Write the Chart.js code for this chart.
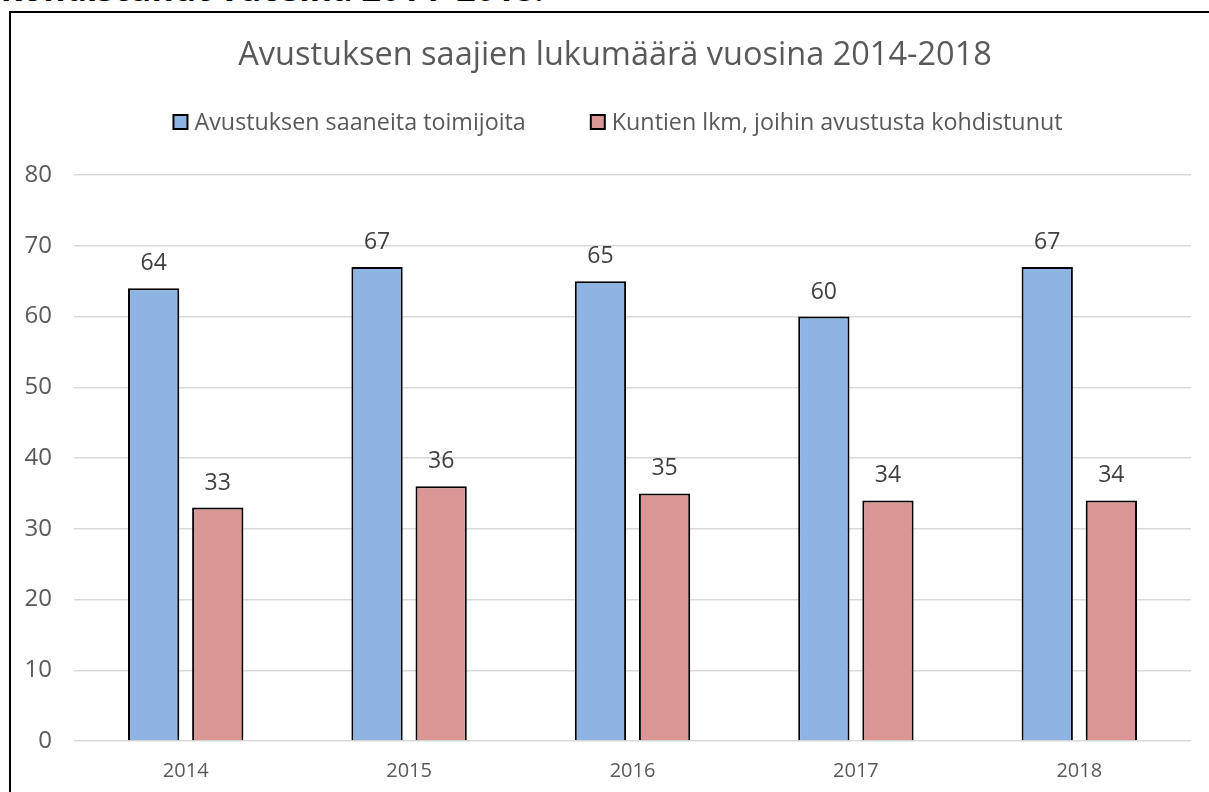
<!DOCTYPE html>
<html lang="fi">
<head>
<meta charset="utf-8">
<title>Avustuksen saajien lukumäärä vuosina 2014-2018</title>
<script src="https://cdn.jsdelivr.net/npm/chart.js@4.4.1/dist/chart.umd.min.js"></script>
<style>
  html, body { margin: 0; padding: 0; background: #fff; overflow: hidden; }
  body { width: 1209px; height: 792px; position: relative; }
  #otsake {
    position: absolute; left: 1px; top: -29px;
    font: bold 34px "Open Sans", sans-serif; line-height: 34px;
    color: #000; white-space: nowrap;
  }
  #kehys {
    position: absolute; left: 9px; top: 11px; width: 1300px; height: 900px;
    border: 2px solid #000; pointer-events: none;
  }
  #kaavio { position: absolute; left: 0; top: 0; }
</style>
</head>
<body>
<div id="otsake">kohdistunut vuosina 2014–2018.</div>
<canvas id="kaavio" width="1234" height="792"></canvas>
<div id="kehys"></div>
<script>
// === Datat ===
var vuodet = ['2014', '2015', '2016', '2017', '2018'];
var toimijat = [64, 67, 65, 60, 67];
var kunnat = [33, 36, 35, 34, 34];
var yTicks = [0, 10, 20, 30, 40, 50, 60, 70, 80];

var otsikko = 'Avustuksen saajien lukumäärä vuosina 2014-2018';
var sarjaNimet = ['Avustuksen saaneita toimijoita', 'Kuntien lkm, joihin avustusta kohdistunut'];

var FONTTI = '"Open Sans", sans-serif';
var HARMAA = '#595959';

// otsikko ja selite piirretään itse, jotta paikat osuvat
var otsikkoPlugin = {
  id: 'otsikkoJaSelite',
  afterDraw: function (chart) {
    var ctx = chart.ctx;
    var keski = 618;
    ctx.save();
    ctx.fillStyle = HARMAA;
    ctx.textAlign = 'center';
    ctx.textBaseline = 'alphabetic';
    ctx.font = '32.5px ' + FONTTI;
    ctx.fillText(otsikko, 615, 65);

    // selite
    ctx.font = '23.3px ' + FONTTI;
    var laatikko = 14, vali = 7, rako = 65;
    var leveydet = chart.data.datasets.map(function (ds) {
      return laatikko + vali + ctx.measureText(ds.label).width;
    });
    var yhteensa = leveydet.reduce(function (a, b) { return a + b; }, 0) + rako * (leveydet.length - 1);
    var x = keski - yhteensa / 2;
    ctx.textAlign = 'left';
    chart.data.datasets.forEach(function (ds, i) {
      ctx.fillStyle = ds.backgroundColor;
      ctx.fillRect(x, 115, laatikko, laatikko);
      ctx.lineWidth = 2;
      ctx.strokeStyle = '#000';
      ctx.strokeRect(x, 115, laatikko, laatikko);
      ctx.fillStyle = HARMAA;
      ctx.fillText(ds.label, x + laatikko + vali, 130);
      x += leveydet[i] + rako;
    });
    ctx.restore();
  }
};

// arvot pylväiden päälle
var arvoPlugin = {
  id: 'arvot',
  afterDatasetsDraw: function (chart) {
    var ctx = chart.ctx;
    ctx.save();
    ctx.font = '23px ' + FONTTI;
    ctx.fillStyle = '#404040';
    ctx.textAlign = 'center';
    ctx.textBaseline = 'alphabetic';
    chart.data.datasets.forEach(function (ds, i) {
      chart.getDatasetMeta(i).data.forEach(function (bar, j) {
        ctx.fillText(String(ds.data[j]), bar.x, bar.y - 18);
      });
    });
    ctx.restore();
  }
};

var config = {
  type: 'bar',
  data: {
    labels: vuodet,
    datasets: [{
      label: sarjaNimet[0],
      data: toimijat,
      backgroundColor: '#8EB4E3',
      borderColor: '#000',
      borderWidth: 2,
      barPercentage: 0.8,
      categoryPercentage: 0.574
    }, {
      label: sarjaNimet[1],
      data: kunnat,
      backgroundColor: '#D99694',
      borderColor: '#000',
      borderWidth: 2,
      barPercentage: 0.8,
      categoryPercentage: 0.574
    }]
  },
  options: {
    responsive: false,
    animation: false,
    layout: { padding: { top: 175, left: 10, right: 43, bottom: 0 } },
    plugins: {
      legend: { display: false },
      title: { display: false },
      tooltip: { enabled: false }
    },
    scales: {
      x: {
        afterFit: function (scale) { scale.height = 51; },
        grid: { display: false },
        border: { display: false },
        ticks: { color: HARMAA, font: { family: FONTTI, size: 20 }, padding: 10 }
      },
      y: {
        min: 0,
        max: 80,
        afterFit: function (scale) { scale.width = 64; },
        afterBuildTicks: function (scale) {
          scale.ticks = yTicks.map(function (v) { return { value: v }; });
        },
        grid: { color: '#D9D9D9', lineWidth: 1.5, drawTicks: false },
        border: { display: false },
        ticks: { color: HARMAA, font: { family: FONTTI, size: 24 }, padding: 22 }
      }
    }
  },
  plugins: [otsikkoPlugin, arvoPlugin]
};

new Chart(document.getElementById('kaavio'), config);
</script>
</body>
</html>
